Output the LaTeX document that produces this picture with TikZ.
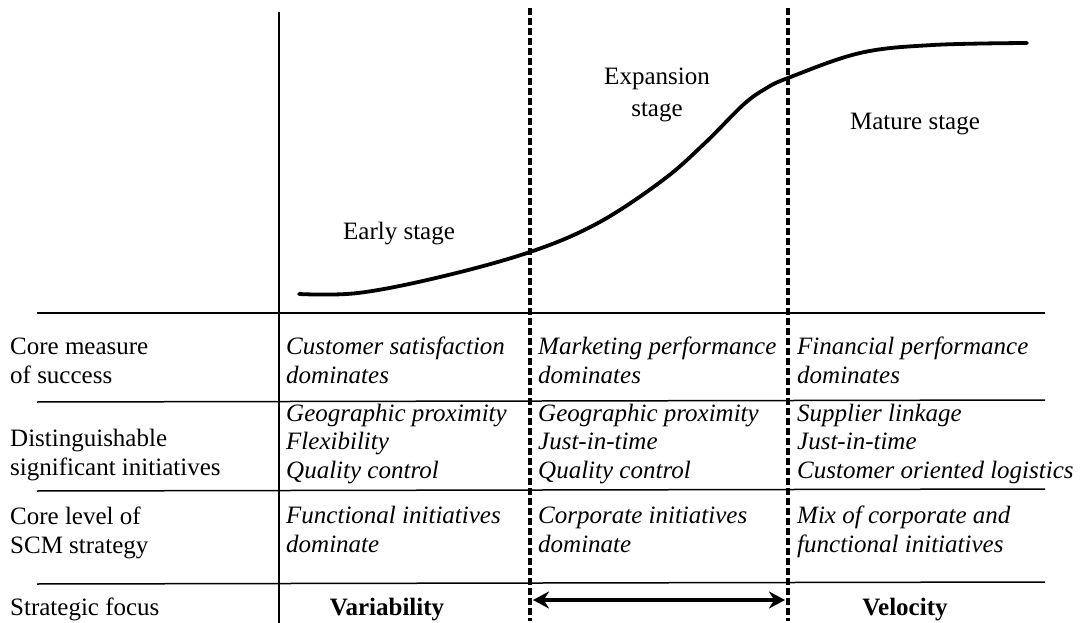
\documentclass[tikz,border=0pt]{standalone}
\usepackage{fontspec}
\setmainfont{Liberation Serif}
\usetikzlibrary{arrows.meta}
\begin{document}
\begin{tikzpicture}[x=1pt,y=-1pt,
  txt/.style={inner sep=0pt, anchor=base west, align=left, font=\fontsize{25}{28.5}\selectfont},
  itx/.style={txt, font=\fontsize{25}{28.5}\selectfont\itshape},
  bfx/.style={inner sep=0pt, anchor=base, font=\fontsize{25}{30}\selectfont\bfseries},
  stagelbl/.style={inner sep=0pt, anchor=base, align=center, font=\fontsize{25}{32}\selectfont},
  rule/.style={line width=1.5pt},
  axisline/.style={line width=2pt},
  divider/.style={line width=3.5pt, dash pattern=on 7pt off 3pt},
  curveline/.style={line width=3.8pt, line cap=round},
  focusarrow/.style={line width=4.5pt, {Stealth[length=16pt,width=17pt]}-{Stealth[length=16pt,width=17pt]}}
]
\useasboundingbox (0,0) rectangle (1085,623);
% table rules
\draw[rule] (37,313) -- (1045,313);
\draw[rule] (37,402) -- (1045,400);
\draw[rule] (37,491) -- (1045,489);
\draw[rule] (37,584) -- (1045,582);
% axis
\draw[axisline] (279,12) -- (279,623);
% stage dividers
\draw[divider] (530,8) -- (530,621);
\draw[divider] (788,8) -- (788,621);
% growth curve
\draw[curveline] plot[smooth, tension=0.6] coordinates {(299,294) (358,293) (440,277) (530,252) (598,223) (663,180) (705,143) (743,105) (765,89) (788,78) (860,53) (933,45) (1027,43)};
% stage labels
\node[stagelbl] (early) at (399,240) {Early stage};
\node[stagelbl] (expansion) at (657,117) {Expansion\\stage};
\node[stagelbl] (mature) at (915,130) {Mature stage};
% row labels
\node[txt] (r1) at (10,383) {Core measure\\of success};
\node[txt] (r2) at (10,475) {Distinguishable\\significant initiatives};
\node[txt] (r3) at (10,553) {Core level of\\SCM strategy};
\node[txt] (r4) at (10,615) {Strategic focus};
% early column
\node[itx] (e1) at (286,383) {Customer satisfaction\\dominates};
\node[itx] (e2) at (286,478) {Geographic proximity\\Flexibility\\Quality control};
\node[itx] (e3) at (286,552) {Functional initiatives\\dominate};
\node[bfx] (e4) at (387,615) {Variability};
% expansion column
\node[itx] (x1) at (538,383) {Marketing performance\\dominates};
\node[itx] (x2) at (538,478) {Geographic proximity\\Just-in-time\\Quality control};
\node[itx] (x3) at (538,552) {Corporate initiatives\\dominate};
\coordinate (aL) at (533,600);
\coordinate (aR) at (785,600);
\draw[focusarrow] (aL) -- (aR);
% mature column
\node[itx] (m1) at (797,383) {Financial performance\\dominates};
\node[itx] (m2) at (797,478) {Supplier linkage\\Just-in-time\\Customer oriented logistics};
\node[itx] (m3) at (797,552) {Mix of corporate and\\functional initiatives};
\node[bfx] (m4) at (905,615) {Velocity};
\end{tikzpicture}
\end{document}
